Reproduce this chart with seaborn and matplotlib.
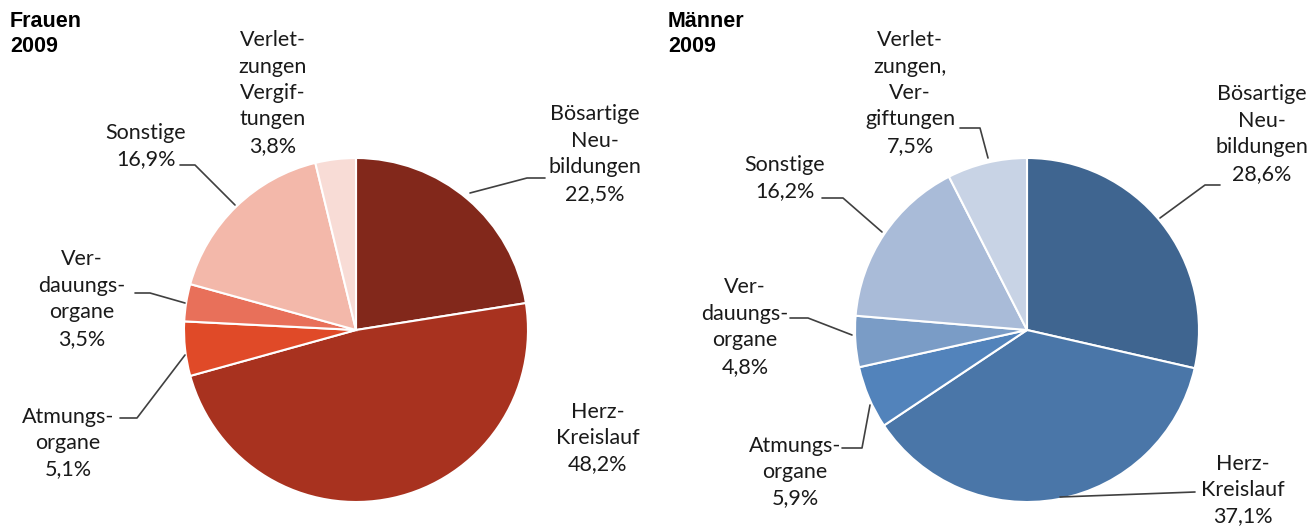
import matplotlib
matplotlib.use("Agg")
import matplotlib.pyplot as plt
import seaborn as sns

# Daten: Todesursachen 2009 (Anteile in %)
ursachen = ["Bösartige Neubildungen", "Herz-Kreislauf", "Atmungsorgane",
            "Verdauungsorgane", "Sonstige", "Verletzungen, Vergiftungen"]
frauen = [22.5, 48.2, 5.1, 3.5, 16.9, 3.8]
maenner = [28.6, 37.1, 5.9, 4.8, 16.2, 7.5]

frauen_labels = ["Bösartige\nNeu-\nbildungen", "Herz-\nKreislauf", "Atmungs-\norgane",
                 "Ver-\ndauungs-\norgane", "Sonstige", "Verlet-\nzungen\nVergif-\ntungen"]
maenner_labels = ["Bösartige\nNeu-\nbildungen", "Herz-\nKreislauf", "Atmungs-\norgane",
                  "Ver-\ndauungs-\norgane", "Sonstige", "Verlet-\nzungen,\nVer-\ngiftungen"]

frauen_farben = ["#82281b", "#a8321f", "#e04a28", "#e8705a", "#f3b8aa", "#f8dcd6"]
maenner_farben = ["#3f6590", "#4a76a8", "#5283bb", "#7a9cc6", "#a9bbd8", "#c8d3e5"]

sns.set_theme(style="white")
plt.rcParams["font.family"] = ["Lato", "DejaVu Sans"]

fig = plt.figure(figsize=(13.08, 5.26), dpi=100)
ax = fig.add_axes([0, 0, 1, 1])


def fmt(v):
    return f"{v:.1f}".replace(".", ",") + "%"


def torte(werte, farben, mitte, radius):
    # y-Achse ist invertiert -> counterclock=True zeichnet im Uhrzeigersinn
    ax.pie(werte, colors=farben, startangle=-90, counterclock=True,
           center=mitte, radius=radius, frame=True,
           wedgeprops=dict(edgecolor="white", linewidth=1.5))


torte(frauen, frauen_farben, (356, 330), 172)
torte(maenner, maenner_farben, (1027, 330), 172)
ax.set_xlim(0, 1308)
ax.set_ylim(526, 0)
ax.set_aspect("equal")
ax.axis("off")

# Beschriftungen (x, y Mitte des Textblocks)
pos_f = [(595, 154), (598, 438), (68, 443), (82, 299), (146, 146), (273, 93)]
pos_m = [(1262, 134), (1243, 490), (795, 472), (745, 327), (785, 178), (910, 93)]

for labels, werte, pos in [(frauen_labels, frauen, pos_f), (maenner_labels, maenner, pos_m)]:
    for lab, v, (x, y) in zip(labels, werte, pos):
        ax.text(x, y, lab + "\n" + fmt(v), ha="center", va="center",
                fontsize=15.5, linespacing=1.4, color="#1a1a1a")

# Führungslinien
linien = [
    [(470, 193), (527, 178), (545, 178)],
    [(180, 165), (195, 165), (235, 205)],
    [(135, 293), (150, 293), (185, 303)],
    [(120, 418), (137, 418), (185, 355)],
    [(960, 128), (980, 128), (988, 158)],
    [(1220, 185), (1205, 185), (1160, 218)],
    [(822, 198), (843, 198), (882, 232)],
    [(790, 318), (808, 318), (852, 335)],
    [(842, 448), (862, 448), (870, 405)],
    [(1195, 492), (1060, 497)],
]
for pts in linien:
    xs, ys = zip(*pts)
    ax.plot(xs, ys, color="#404040", lw=1.2)

for x, titel in [(10, "Frauen\n2009"), (668, "Männer\n2009")]:
    ax.text(x, 11, titel, ha="left", va="top", fontsize=15.5, fontweight="bold",
            family="Liberation Sans", linespacing=1.25, color="black")

fig.savefig("out.png", dpi=100)
